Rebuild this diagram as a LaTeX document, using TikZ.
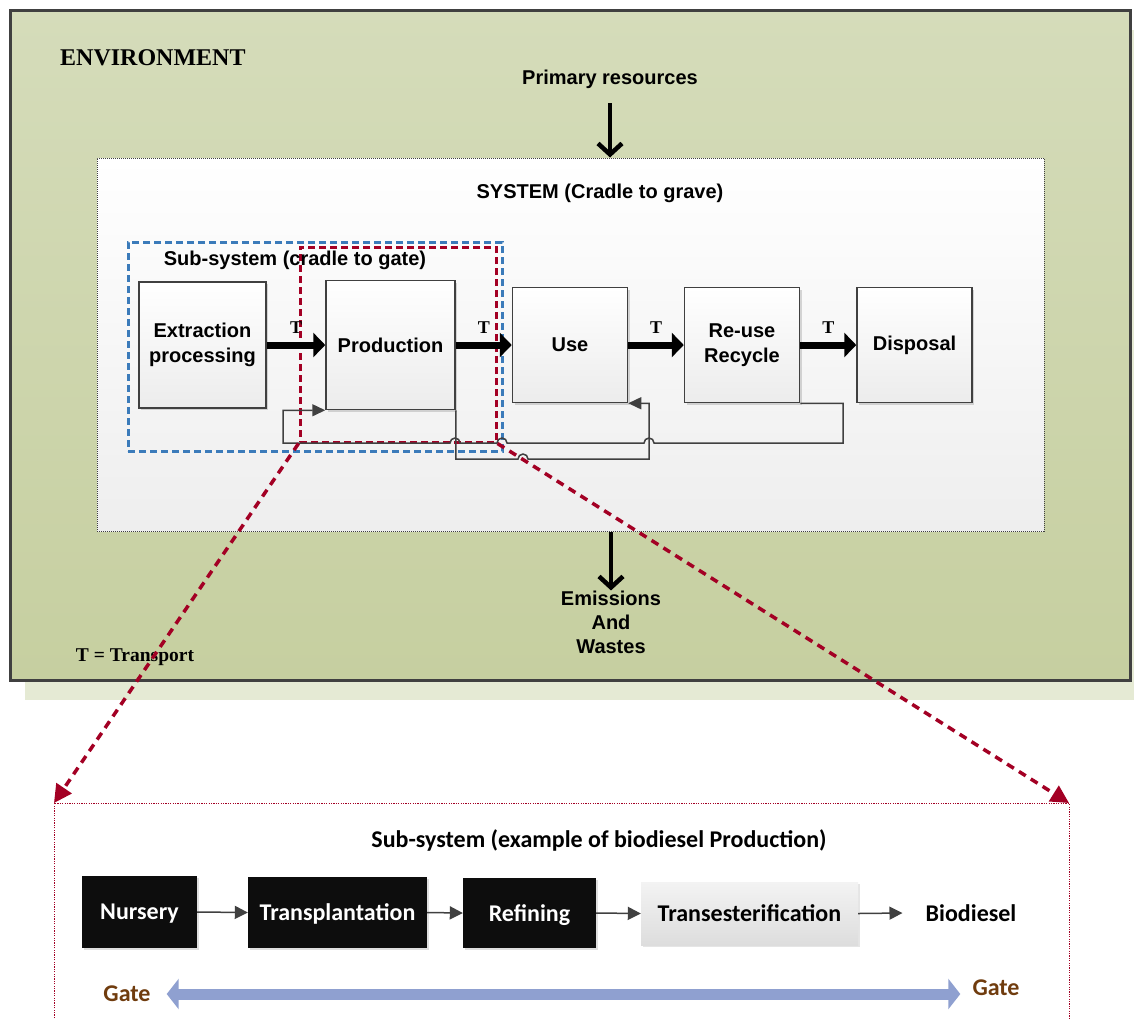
\documentclass[tikz,border=0pt]{standalone}
\usepackage{fontspec}
\setmainfont{Liberation Sans}
\newfontfamily\timesf{Liberation Serif}
\newfontfamily\calib{Carlito}
\usetikzlibrary{arrows.meta,shadows,calc}
\definecolor{envtop}{RGB}{213,220,186}
\definecolor{envbot}{RGB}{198,207,160}
\definecolor{envshadow}{RGB}{229,234,212}
\definecolor{frame}{RGB}{64,64,64}
\definecolor{blueD}{RGB}{59,123,186}
\definecolor{redD}{RGB}{163,0,36}
\definecolor{gateblue}{RGB}{143,160,208}
\definecolor{brownG}{RGB}{112,60,14}
\definecolor{boxbot}{RGB}{236,236,236}
\definecolor{sysbot}{RGB}{238,238,238}
\definecolor{boxblack}{RGB}{13,13,13}
\definecolor{trtop}{RGB}{243,243,243}
\definecolor{trbot}{RGB}{221,221,221}
\begin{document}
\begin{tikzpicture}[x=1pt,y=-1pt,
  txt/.style={font=\bfseries\fontsize{20}{24}\selectfont, inner sep=0pt, align=center},
  envbox/.style={draw=frame, line width=3pt, top color=envtop, bottom color=envbot, inner sep=0pt,
    drop shadow={shadow xshift=15pt, shadow yshift=-20pt, fill=envshadow, opacity=1}},
  sysbox/.style={draw=frame, line width=1pt, dash pattern=on 1pt off 1pt, top color=white, bottom color=sysbot, inner sep=0pt},
  procbox/.style={draw=frame, line width=1.5pt, top color=white, bottom color=boxbot, inner sep=0pt, align=center,
    font=\bfseries\fontsize{20}{25}\selectfont, drop shadow={shadow xshift=2pt, shadow yshift=-2pt, opacity=0.3}},
  bluebox/.style={draw=blueD, line width=3pt, dash pattern=on 7pt off 4pt, inner sep=0pt},
  redbox/.style={draw=redD, line width=3pt, dash pattern=on 7pt off 4pt, inner sep=0pt},
  tlab/.style={font=\timesf\bfseries\fontsize{18}{20}\selectfont, inner sep=0pt},
  bigarrow/.style={draw=black, line width=7pt, -{Triangle[length=12pt,width=24pt]}},
  downarrow/.style={draw=black, line width=4.5pt, -{Straight Barb[length=11pt,width=24pt,line width=4.5pt]}},
  fb/.style={draw=frame, line width=1.5pt},
  fbtip/.style={-{Triangle[length=13pt,width=12pt]}},
  diag/.style={draw=redD, line width=3.5pt, dash pattern=on 8pt off 6pt, -{Triangle[length=18pt,width=18pt]}},
  reddot/.style={draw=redD, line width=1pt, dash pattern=on 1.2pt off 1.2pt},
  cal/.style={font=\calib\bfseries\fontsize{24}{28}\selectfont, inner sep=0pt},
  blackbox/.style={cal, text depth=0pt, fill=boxblack, text=white, drop shadow={shadow xshift=2pt, shadow yshift=-2pt, opacity=0.25}},
  transbox/.style={cal, text depth=0pt, top color=trtop, bottom color=trbot, drop shadow={shadow xshift=2pt, shadow yshift=-2pt, opacity=0.2}},
  smallarrow/.style={draw=frame, line width=1.5pt, -{Triangle[length=13pt,width=13pt]}},
  gatearrow/.style={draw=gateblue, line width=11pt, {Triangle[length=12pt,width=30pt]}-{Triangle[length=12pt,width=30pt]}}
]
\fill[white] (0,0) rectangle (1134,1018);
\useasboundingbox (0,0) rectangle (1134,1018);

% environment
\node[envbox, minimum width=1120pt, minimum height=670pt] (env) at (570,345) {};
\node[font=\timesf\bfseries\fontsize{24}{28}\selectfont, inner sep=0pt, anchor=west] (envlab) at (60,58) {ENVIRONMENT};
\node[txt, text depth=0pt] (prim) at (610,77) {Primary resources};

% system
\node[sysbox, minimum width=947pt, minimum height=373pt] (sys) at (570.5,344.5) {};
\node[txt] (systit) at (600,193) {SYSTEM (Cradle to grave)};

\coordinate (pa1) at (610,103);
\draw[downarrow] (pa1) -- (pa1 |- sys.north);

% sub-system boxes
\node[bluebox, minimum width=374pt, minimum height=209pt] (bluesub) at (315,346.5) {};
\node[redbox, minimum width=196pt, minimum height=195pt] (redsub) at (398,344.5) {};
\node[txt] (subtit) at (295,260) {Sub-system (cradle to gate)};

% process boxes
\node[procbox, minimum width=127pt, minimum height=126pt] (ext) at (202.5,345) {Extraction\\processing};
\node[procbox, minimum width=129pt, minimum height=129pt] (prod) at (390.5,345) {Production};
\node[procbox, minimum width=115pt, minimum height=115pt] (use) at (570,345) {Use};
\node[procbox, minimum width=115pt, minimum height=115pt] (reuse) at (742,345) {Re-use\\Recycle};
\node[procbox, minimum width=115pt, minimum height=115pt] (disp) at (914.5,345) {Disposal};

\draw[bigarrow] (ext.east) -- node[tlab, yshift=17pt] (t1) {T} (prod.west);
\draw[bigarrow] (prod.east) -- node[tlab, yshift=17pt] (t2) {T} (use.west);
\draw[bigarrow] (use.east) -- node[tlab, yshift=17pt] (t3) {T} (reuse.west);
\draw[bigarrow] (reuse.east) -- node[tlab, yshift=17pt] (t4) {T} (disp.west);

% feedback loops
\coordinate (pA) at (843,443);
\coordinate (pF) at (283,443);
\draw[fb,fbtip] (reuse.south east) -- (reuse.south east -| pA) -- (pA) -- (654,443)
  arc[start angle=0,end angle=180,radius=5pt] -- (507,443)
  arc[start angle=0,end angle=180,radius=5pt] -- (460,443)
  arc[start angle=0,end angle=180,radius=5pt] -- (pF) -- (pF |- prod.south west) -- (prod.south west);
\coordinate (pB) at (455,459);
\coordinate (pC) at (649,459);
\draw[fb,fbtip] (prod.south east) -- (prod.south east |- pB) -- (518,459)
  arc[start angle=180,end angle=0,radius=5pt] -- (pC) -- (pC |- use.south east) -- (use.south east);

% emissions
\node[txt] (emis) at (611,622) {Emissions\\And\\Wastes};
\draw[downarrow] (emis.north |- sys.south) -- (emis.north);
\node[font=\timesf\bfseries\fontsize{19.5}{22}\selectfont, inner sep=0pt] (tnote) at (135,657) {T = Transport};

% bottom sub-system frame and zoom lines
\coordinate (bl) at (54,803);
\coordinate (br) at (1069,803);
\draw[reddot] (54,1018) -- (bl) -- (br) -- (1069,1018);
\draw[diag] (redsub.south west) -- (bl);
\draw[diag] (redsub.south east) -- (br);

\node[cal] (subex) at (599,840) {Sub-system (example of biodiesel Production)};
\node[blackbox, minimum width=115pt, minimum height=72pt] (nurs) at (139.5,912) {Nursery};
\node[blackbox, minimum width=179pt, minimum height=71pt] (transp) at (337.5,912.5) {Transplantation};
\node[blackbox, minimum width=133pt, minimum height=70pt] (refin) at (529.5,913) {Refining};
\node[transbox, minimum width=217pt, minimum height=63pt] (trest) at (749.5,913.5) {Transesterification};
\node[cal, inner xsep=23pt, text depth=0pt] (bio) at (971,913) {Biodiesel};
\draw[smallarrow] (nurs.east) -- (transp.west);
\draw[smallarrow] (transp.east) -- (refin.west);
\draw[smallarrow] (refin.east) -- (trest.west);
\draw[smallarrow] (trest.east) -- (bio.west);

\node[cal, text=brownG, inner xsep=16pt] (gateL) at (127,994) {Gate};
\node[cal, text=brownG, inner xsep=12pt] (gateR) at (996,988) {Gate};
\draw[gatearrow] (gateL.east) -- (gateL.east -| gateR.west);
\end{tikzpicture}
\end{document}
